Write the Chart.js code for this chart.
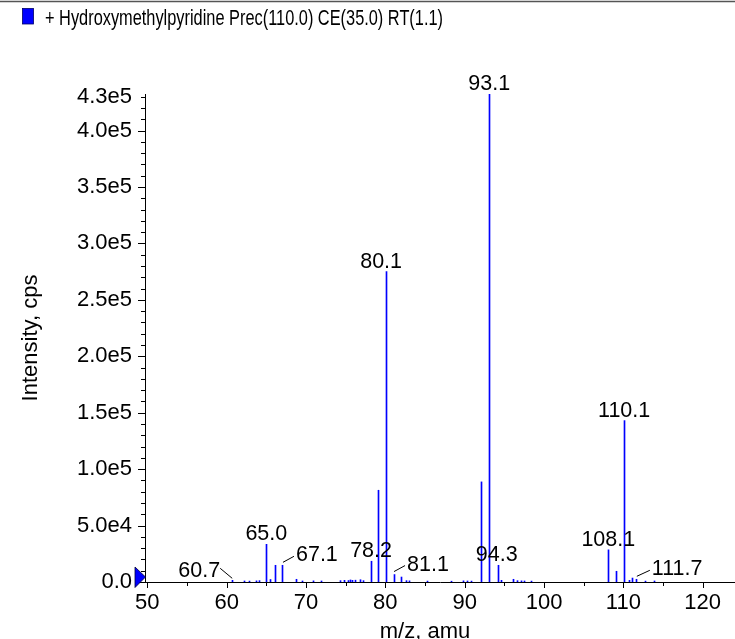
<!DOCTYPE html>
<html>
<head>
<meta charset="utf-8">
<script src="https://cdn.jsdelivr.net/npm/chart.js@4.4.1/dist/chart.umd.min.js"></script>
<style>
  html, body { margin: 0; padding: 0; background: #fff; }
  #wrap { width: 735px; height: 639px; position: relative; }
</style>
</head>
<body>
<div id="wrap"><canvas id="c"></canvas></div>
<script>
// ---- data ----
const seriesName = '+ Hydroxymethylpyridine Prec(110.0) CE(35.0) RT(1.1)';
const mz = [60.7, 62.3, 62.9, 63.7, 64.2, 65.0, 65.5, 66.1, 67.1, 68.8, 69.6, 70.9, 71.9,
  74.3, 74.8, 75.3, 75.6, 75.9, 76.3, 76.9, 77.3, 78.2, 79.1, 80.1, 81.1, 82.1, 82.7, 83.1,
  85.3, 88.4, 89.9, 90.3, 90.8, 92.1, 93.1, 94.3, 94.7, 96.1, 96.6, 97.1, 97.6, 98.4,
  108.1, 109.1, 110.1, 110.8, 111.2, 111.7, 112.8, 113.9];
const intensity = [1500, 900, 800, 1000, 1200, 33400, 2200, 14800, 14800, 2400, 900, 1000, 900,
  1200, 1500, 1300, 1800, 1500, 1600, 2000, 1200, 18400, 81300, 275000, 6600, 4400, 1200, 1000,
  800, 700, 1000, 900, 800, 88700, 432000, 14800, 1500, 2400, 1200, 1000, 900, 800,
  28500, 9500, 143000, 1500, 3500, 2400, 800, 900];
const peakLabels = [60.7, 65.0, 67.1, 78.2, 80.1, 81.1, 93.1, 94.3, 108.1, 110.1, 111.7];
const yTickValues = [0, 50000, 100000, 150000, 200000, 250000, 300000, 350000, 400000, 430000];
const yTickLabels = ['0.0', '5.0e4', '1.0e5', '1.5e5', '2.0e5', '2.5e5', '3.0e5', '3.5e5', '4.0e5', '4.3e5'];
const xTickValues = [50, 60, 70, 80, 90, 100, 110, 120];
const xTitle = 'm/z, amu';
const yTitle = 'Intensity, cps';

// ---- styling (not data) ----
const FONT = "'Liberation Sans', Arial, Helvetica, sans-serif";
const BLUE = '#0000ff';
const labelStyle = {
  60.7: { side: 'left', dx: 0 },
  65.0: { side: 'top', dx: 0 },
  67.1: { side: 'right', dx: 0 },
  78.2: { side: 'top', dx: 0 },
  80.1: { side: 'top', dx: -5 },
  81.1: { side: 'right', dx: 0 },
  93.1: { side: 'top', dx: 0 },
  94.3: { side: 'top', dx: -2 },
  108.1: { side: 'top', dx: 0 },
  110.1: { side: 'top', dx: 0 },
  111.7: { side: 'right', dx: 2 }
};

// snap 1px stems to the pixel grid so they render crisp
const snap = {
  id: 'snap',
  beforeDatasetsDraw(chart) {
    chart.getSortedVisibleDatasetMetas().forEach(meta => {
      meta.data.forEach(el => { el.x = Math.floor(el.x) + 0.5; });
    });
  }
};

const decor = {
  id: 'decor',
  afterDatasetsDraw(chart) {
    const { ctx, chartArea, scales: { x, y } } = chart;
    ctx.save();
    ctx.strokeStyle = '#555';
    ctx.lineWidth = 1.5;
    ctx.beginPath(); ctx.moveTo(0, 1.5); ctx.lineTo(chart.width, 1.5); ctx.stroke();

    ctx.strokeStyle = '#000';
    ctx.lineWidth = 1;
    const yMaxTick = yTickValues[yTickValues.length - 1];
    for (let v = 0; v <= yMaxTick; v += 10000) {
      const py = Math.round(y.getPixelForValue(v)) + 0.5;
      const len = (v % 50000 === 0) ? 7 : 4;
      ctx.beginPath(); ctx.moveTo(chartArea.left, py); ctx.lineTo(chartArea.left - len, py); ctx.stroke();
    }
    for (let v = xTickValues[0]; v <= xTickValues[xTickValues.length - 1]; v += 5) {
      const px = Math.round(x.getPixelForValue(v)) + 0.5;
      const len = (v % 10 === 0) ? 6 : 4;
      ctx.beginPath(); ctx.moveTo(px, chartArea.bottom); ctx.lineTo(px, chartArea.bottom + len); ctx.stroke();
    }

    const y0 = y.getPixelForValue(0);
    const xl = chartArea.left;
    ctx.fillStyle = BLUE;
    ctx.strokeStyle = '#000033';
    ctx.beginPath();
    ctx.moveTo(xl - 10, y0 - 15);
    ctx.lineTo(xl - 10, y0 + 5.5);
    ctx.lineTo(xl + 0.5, y0 - 5);
    ctx.closePath();
    ctx.fill();
    ctx.lineWidth = 0.8;
    ctx.stroke();

    ctx.fillStyle = '#000';
    ctx.strokeStyle = '#000';
    ctx.lineWidth = 1;
    ctx.font = '21.5px ' + FONT;
    ctx.textBaseline = 'alphabetic';
    peakLabels.forEach(m => {
      const i = mz.indexOf(m);
      if (i < 0) return;
      const st = labelStyle[m] || { side: 'top', dx: 0 };
      const px = x.getPixelForValue(m);
      const top = y.getPixelForValue(intensity[i]);
      const txt = m.toFixed(1);
      if (st.side === 'top') {
        ctx.textAlign = 'center';
        ctx.fillText(txt, px + st.dx, top - 4);
      } else if (st.side === 'right') {
        ctx.beginPath(); ctx.moveTo(px, top - 3); ctx.lineTo(px + 11 + st.dx, top - 9); ctx.stroke();
        ctx.textAlign = 'left';
        ctx.fillText(txt, px + 13 + st.dx, top - 4);
      } else {
        ctx.beginPath(); ctx.moveTo(px, top - 2); ctx.lineTo(px - 12, top - 12); ctx.stroke();
        ctx.textAlign = 'right';
        ctx.fillText(txt, px - 12, top - 3);
      }
    });

    const xc = (x.getPixelForValue(xTickValues[0]) + x.getPixelForValue(xTickValues[xTickValues.length - 1])) / 2;
    ctx.font = '22px ' + FONT;
    ctx.textAlign = 'center';
    ctx.fillText(xTitle, xc, 637.5);

    // legend
    ctx.fillStyle = BLUE;
    ctx.fillRect(22.5, 8.5, 11, 15.5);
    ctx.strokeStyle = '#000066';
    ctx.lineWidth = 0.8;
    ctx.strokeRect(22.5, 8.5, 11, 15.5);
    ctx.fillStyle = '#000';
    ctx.font = '21.5px ' + FONT;
    ctx.textAlign = 'left';
    const w = ctx.measureText(seriesName).width;
    const sx = 398 / w;
    ctx.save();
    ctx.translate(45, 24.5);
    ctx.scale(sx, 1);
    ctx.fillText(seriesName, 0, 0);
    ctx.restore();

    ctx.restore();
  }
};

new Chart(document.getElementById('c'), {
  type: 'bar',
  data: {
    datasets: [{
      label: seriesName,
      data: mz.map((m, i) => ({ x: m, y: intensity[i] })),
      backgroundColor: BLUE,
      borderWidth: 0,
      barThickness: 1
    }]
  },
  options: {
    responsive: true,
    maintainAspectRatio: false,
    animation: false,
    layout: { padding: { top: 94, left: 0, right: 0, bottom: 0 } },
    plugins: { legend: { display: false }, tooltip: { enabled: false } },
    scales: {
      x: {
        type: 'linear',
        min: 49.71,
        max: 124.07,
        offset: false,
        grid: { display: false, drawTicks: false },
        border: { display: true, color: '#000', width: 1 },
        afterBuildTicks: s => { s.ticks = xTickValues.map(v => ({ value: v })); },
        afterFit: s => { s.height = 57; },
        ticks: {
          autoSkip: false,
          maxRotation: 0,
          padding: 8,
          color: '#000',
          font: { family: FONT, size: 22 },
          callback: v => String(v)
        }
      },
      y: {
        type: 'linear',
        min: 0,
        max: 432400,
        grid: { display: false, drawTicks: false },
        border: { display: true, color: '#000', width: 1 },
        afterBuildTicks: s => { s.ticks = yTickValues.map(v => ({ value: v })); },
        afterFit: s => { s.width = 145; },
        title: {
          display: true,
          text: yTitle,
          color: '#000',
          font: { family: FONT, size: 22 },
          padding: { top: 18, bottom: 0 }
        },
        ticks: {
          autoSkip: false,
          padding: 13,
          color: '#000',
          font: { family: FONT, size: 22 },
          callback: (v, i) => yTickLabels[i]
        }
      }
    }
  },
  plugins: [snap, decor]
});
</script>
</body>
</html>
